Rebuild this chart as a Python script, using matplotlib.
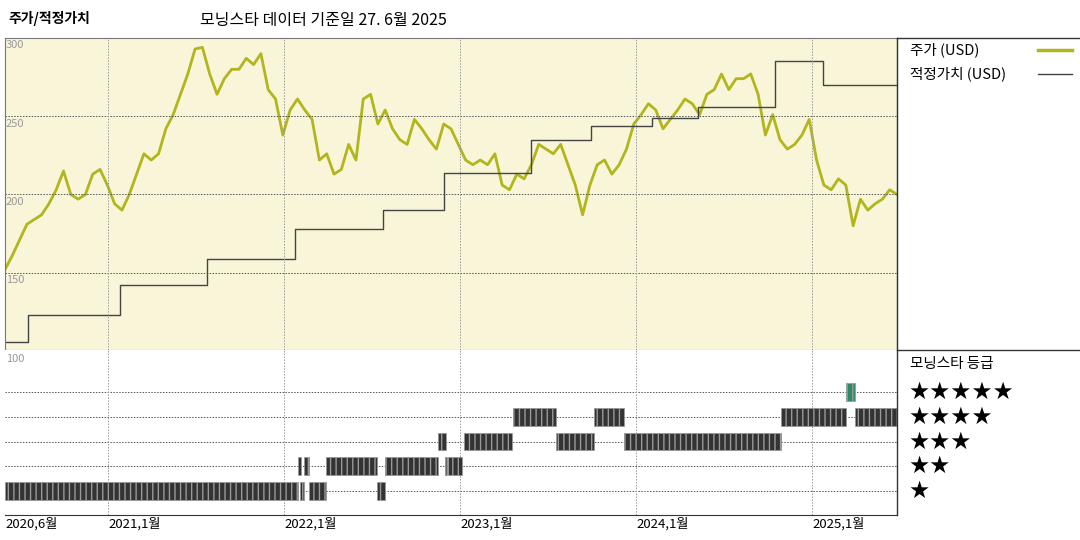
import numpy as np
import matplotlib.pyplot as plt
from matplotlib.lines import Line2D

plt.rcParams['font.family'] = ['Noto Sans CJK KR', 'DejaVu Sans']

# Price (USD), roughly equally spaced from 2020-06 to 2025-06
price = [152, 161, 171, 181, 184, 187, 194, 203, 215, 200, 197, 200, 213, 216, 206, 194,
         190, 200, 213, 226, 222, 226, 242, 251, 264, 277, 293, 294, 277, 264, 274, 280,
         280, 287, 283, 290, 267, 261, 238, 254, 261, 254, 248, 222, 226, 213, 216, 232,
         222, 261, 264, 245, 254, 242, 235, 232, 248, 242, 235, 229, 245, 242, 232, 222,
         219, 222, 219, 226, 206, 203, 213, 210, 219, 232, 229, 226, 232, 219, 206, 187,
         206, 219, 222, 213, 219, 229, 245, 251, 258, 254, 242, 248, 254, 261, 258, 251,
         264, 267, 277, 267, 274, 274, 277, 264, 238, 251, 235, 229, 232, 238, 248, 222,
         206, 203, 210, 206, 180, 197, 190, 194, 197, 203, 200]
start_year, end_year = 2020.415, 2025.48

# Fair value steps: (start year, value)
fv_start = [2020.415, 2020.545, 2021.07, 2021.56, 2022.06, 2022.56, 2022.91, 2023.40,
            2023.74, 2024.09, 2024.35, 2024.79, 2025.06]
fv_value = [106, 123, 142, 159, 178, 190, 214, 235, 244, 249, 256, 285, 270]

# Morningstar rating segments: row -> list of (start, end)
rating_segments = {
    1: [(2020.415, 2022.08), (2022.09, 2022.11), (2022.14, 2022.24), (2022.53, 2022.57)],
    2: [(2022.08, 2022.095), (2022.11, 2022.14), (2022.24, 2022.53), (2022.57, 2022.875),
        (2022.915, 2022.925), (2022.93, 2023.01)],
    3: [(2022.875, 2022.92), (2023.02, 2023.295), (2023.545, 2023.76), (2023.93, 2024.82)],
    4: [(2023.30, 2023.545), (2023.76, 2023.93), (2024.82, 2025.19), (2025.24, 2025.48)],
    5: [(2025.19, 2025.24)],
}

tick_pos = [2020.415, 2021, 2022, 2023, 2024, 2025]
tick_lab = ['2020,6월', '2021,1월', '2022,1월', '2023,1월', '2024,1월', '2025,1월']

W, H = 1080, 540
fig = plt.figure(figsize=(10.8, 5.4), dpi=100)
L, R = 5 / W, 897 / W
ax = fig.add_axes([L, 1 - 350 / H, R - L, (350 - 38) / H])
ax2 = fig.add_axes([L, 1 - 515 / H, R - L, (515 - 350) / H])

price_x = np.linspace(start_year, end_year, len(price))
ax.set_facecolor('#f8f5d9')
ax.plot(price_x, price, color='#b2b51c', lw=2)
ax.step(fv_start + [end_year], fv_value + [fv_value[-1]], where='post', color='#444444', lw=1)
ax.set_xlim(start_year, end_year)
ax.set_ylim(100.6, 300)
for v in [150, 200, 250]:
    ax.axhline(v, color='#555555', lw=0.7, ls=(0, (1.5, 1.5)))
for t in tick_pos[1:]:
    ax.axvline(t, color='#999999', lw=0.7, ls=(0, (1.5, 1.5)))
for v in [150, 200, 250, 300]:
    ax.text(start_year + 0.005, v - 1.5, str(v), color='#999999', fontsize=8, va='top')
ax.set_xticks([]); ax.set_yticks([])
for s in ax.spines.values():
    s.set_color('#777777'); s.set_linewidth(0.8)

for row, segs in rating_segments.items():
    fc = '#2f8a63' if row == 5 else '#333333'
    ax2.broken_barh([(a, b - a) for a, b in segs], (row - 0.36, 0.72),
                    facecolor=fc, edgecolor='#999999', hatch='|||', lw=0.5)
    ax2.axhline(row, color='#555555', lw=0.7, ls=(0, (1.5, 1.5)), zorder=0)
for t in tick_pos[1:]:
    ax2.axvline(t, color='#999999', lw=0.7, ls=(0, (1.5, 1.5)), zorder=0)
ax2.text(start_year + 0.005, 6.55, '100', color='#999999', fontsize=8, va='top')
ax2.set_xlim(start_year, end_year)
ax2.set_ylim(0.03, 6.7)
ax2.set_yticks([])
ax2.set_xticks(tick_pos)
ax2.set_xticklabels(tick_lab, ha='left', fontsize=9.5)
ax2.tick_params(axis='x', length=0, pad=2)
for s in ['top', 'left', 'right']:
    ax2.spines[s].set_visible(False)
ax2.spines['bottom'].set_color('#333333')

# frame lines for right panel
fig.add_artist(Line2D([R, R], [1 - 38 / H, 1 - 515 / H], color='#333333', lw=1))
fig.add_artist(Line2D([R, 1], [1 - 38 / H, 1 - 38 / H], color='#333333', lw=1))
fig.add_artist(Line2D([R, 1], [1 - 350 / H, 1 - 350 / H], color='#333333', lw=1))

fig.text(8 / W, 1 - 18 / H, '주가/적정가치', fontsize=10, fontweight='bold', va='center')
fig.text(200 / W, 1 - 20 / H, '모닝스타 데이터 기준일 27. 6월 2025', fontsize=11.5, va='center')
fig.text(910 / W, 1 - 50 / H, '주가 (USD)', fontsize=10.5, va='center')
fig.text(910 / W, 1 - 74 / H, '적정가치 (USD)', fontsize=10.5, va='center')
fig.add_artist(Line2D([1038 / W, 1072 / W], [1 - 50 / H] * 2, color='#b2b51c', lw=2.5))
fig.add_artist(Line2D([1038 / W, 1072 / W], [1 - 74 / H] * 2, color='#444444', lw=1))
fig.text(910 / W, 1 - 364 / H, '모닝스타 등급', fontsize=10.5, va='center')
for n in range(1, 6):
    y = 1 - (491 - (n - 1) * 24.7) / H
    fig.text(908 / W, y, '★' * n, fontsize=17, va='center', family='DejaVu Sans')

fig.savefig('out.png', dpi=100)
